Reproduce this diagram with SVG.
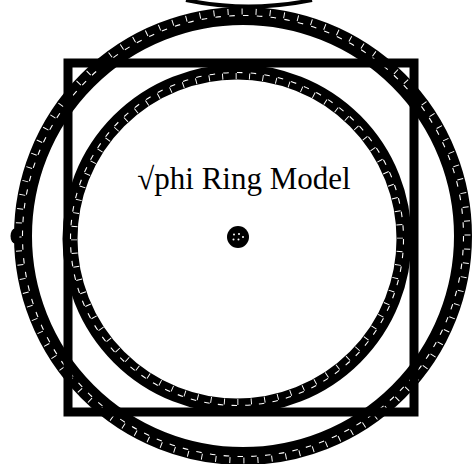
<svg xmlns="http://www.w3.org/2000/svg" width="473" height="464" viewBox="0 0 473 464">
<style>
.band{fill:none;stroke:#000}
.wl{fill:none;stroke:#fff}
.lbl{font-family:"Liberation Serif","Times New Roman",serif;fill:#000}
</style>
<rect width="473" height="464" fill="#fff"/>
<g id="top-arc"><path d="M186,0 Q248,13 312,0" fill="none" stroke="#000" stroke-width="4"/></g>
<g id="outer-ring">
<circle class="band" cx="243" cy="236" r="220" stroke-width="18"/>
<circle class="wl" cx="243" cy="236" r="220.5" stroke-width="1.1" pathLength="100" stroke-dasharray="0.4 0.6"/>
<circle class="wl" cx="243" cy="236" r="224.5" stroke-width="6" pathLength="100" stroke-dasharray="0.07 0.93" stroke-dashoffset="0.1"/>
</g>
<g id="square"><rect x="68" y="63" width="346" height="349" fill="none" stroke="#000" stroke-width="9"/></g>
<g id="inner-ring">
<circle class="band" cx="237" cy="239" r="167" stroke-width="15"/>
<circle class="wl" cx="237" cy="239" r="166.5" stroke-width="1.1" pathLength="76" stroke-dasharray="0.4 0.6"/>
<circle class="wl" cx="237" cy="239" r="163" stroke-width="6" pathLength="76" stroke-dasharray="0.07 0.93" stroke-dashoffset="0.1"/>
</g>
<g id="left-dot"><ellipse cx="15" cy="236" rx="4.5" ry="7.5" fill="#000"/></g>
<g id="label"><text class="lbl" x="244" y="189" font-size="31" text-anchor="middle">√phi Ring Model</text></g>
<g id="center-dot">
<circle cx="238" cy="237" r="11" fill="#000"/>
<g fill="#fff"><circle cx="234" cy="234.5" r="1"/><circle cx="239" cy="234" r="1"/><circle cx="233.5" cy="239.5" r="1"/><circle cx="238.5" cy="239.5" r="1"/><circle cx="243" cy="237" r="1"/></g>
</g>
</svg>
